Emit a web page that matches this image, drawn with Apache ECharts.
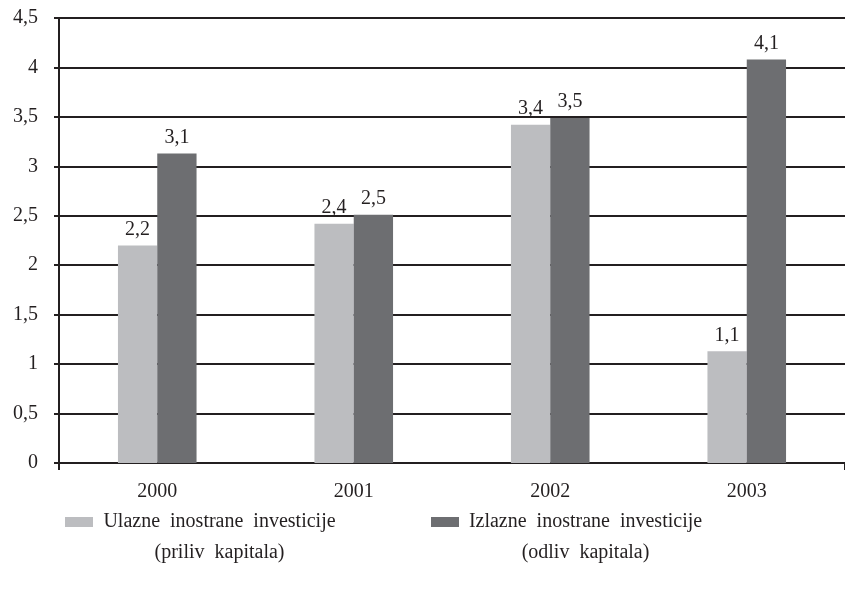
<!DOCTYPE html>
<html>
<head>
<meta charset="utf-8">
<script src="https://cdn.jsdelivr.net/npm/echarts@6/dist/echarts.min.js"></script>
<style>
    html, body { margin: 0; padding: 0; background: #fff; }
    #main { width: 845px; height: 591px; }
</style>
</head>
<body>
<div id="main"></div>
<script>
let years = ['2000', '2001', '2002', '2003'];
let seriesNames = ['Ulazne inostrane investicije', 'Izlazne inostrane investicije'];
let seriesSub = ['(priliv kapitala)', '(odliv kapitala)'];
let inflow = [2.2, 2.42, 3.42, 1.13];    // ulazne (priliv)
let outflow = [3.13, 2.51, 3.49, 4.08];  // izlazne (odliv)
let inflowLabels = ['2,2', '2,4', '3,4', '1,1'];
let outflowLabels = ['3,1', '2,5', '3,5', '4,1'];

let ink = '#231f20';
let font = '"Liberation Serif", "DejaVu Serif", serif';

function comma(v) {
    return String(v).replace('.', ',');
}

// razmak izmedju reci je siri u originalu
function wide(s) {
    return s.split(' ').join('\u2002');
}

let chart = echarts.init(document.getElementById('main'));
let option = {
    animation: false,
    textStyle: {fontFamily: font, color: ink},
    grid: {left: 59, top: 18, width: 792, bottom: 128},
    legend: {
        left: 60,
        top: 507,
        itemWidth: 28,
        itemHeight: 10,
        itemGap: 90,
        icon: 'rect',
        data: seriesNames,
        formatter: function(name) {
            let i = seriesNames.indexOf(name);
            return '{a|' + wide(name) + '}\n{a|' + wide(seriesSub[i]) + '}';
        },
        textStyle: {
            fontFamily: font,
            color: ink,
            height: 31,
            rich: {a: {width: 243, align: 'center', fontSize: 20, lineHeight: 31, fontFamily: font, color: ink}}
        }
    },
    xAxis: {
        type: 'category',
        data: years,
        axisLine: {lineStyle: {color: ink, width: 2}},
        axisTick: {show: true, length: 7, interval: function(i) { return i === 0; }, lineStyle: {color: ink, width: 2}},
        axisLabel: {fontSize: 20, color: ink, fontFamily: font, margin: 19}
    },
    yAxis: {
        type: 'value',
        min: 0,
        max: 4.5,
        interval: 0.5,
        axisLine: {show: true, lineStyle: {color: ink, width: 2}},
        axisTick: {show: true, length: 5, lineStyle: {color: ink, width: 2}},
        splitLine: {lineStyle: {color: ink, width: 2}},
        axisLabel: {fontSize: 20, color: ink, fontFamily: font, margin: 21, formatter: comma}
    },
    series: [{
        name: seriesNames[0],
        type: 'bar',
        data: inflow,
        barGap: '0%',
        barCategoryGap: '60%',
        itemStyle: {color: '#bcbdc0'},
        label: {
            show: true, position: 'top', distance: 6, fontSize: 20, color: ink, fontFamily: font,
            formatter: function(p) { return inflowLabels[p.dataIndex]; }
        }
    }, {
        name: seriesNames[1],
        type: 'bar',
        data: outflow,
        itemStyle: {color: '#6d6e71'},
        label: {
            show: true, position: 'top', distance: 6, fontSize: 20, color: ink, fontFamily: font,
            formatter: function(p) { return outflowLabels[p.dataIndex]; }
        }
    }]
};
chart.setOption(option);
</script>
</body>
</html>
